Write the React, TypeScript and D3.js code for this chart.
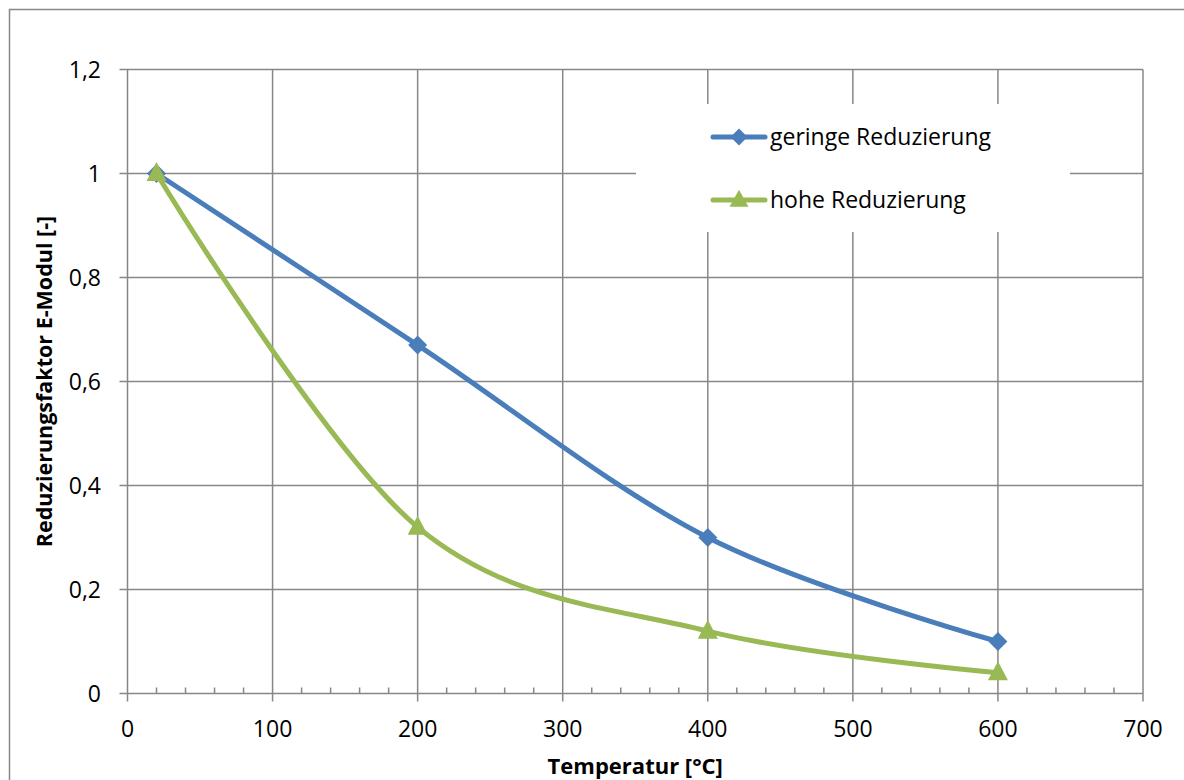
import React from "react";
import * as d3 from "d3";

const temperatures = [20, 200, 400, 600];
const geringeValues = [1, 0.67, 0.3, 0.1];
const hoheValues = [1, 0.32, 0.12, 0.04];
const seriesNames = ["geringe Reduzierung", "hohe Reduzierung"];
const xTicks = [0, 100, 200, 300, 400, 500, 600, 700];
const yTicks = [0, 0.2, 0.4, 0.6, 0.8, 1, 1.2];
const xTitle = "Temperatur [°C]";
const yTitle = "Reduzierungsfaktor E-Modul [-]";

const W = 1184;
const H = 780;
const FONT = "'Open Sans', sans-serif";
const GRID = "#878787";
const BLUE = "#4A7EBB";
const GREEN = "#98B954";

export default function App() {
  const x = d3.scaleLinear().domain([0, 700]).range([127.5, 1143]);
  const y = d3.scaleLinear().domain([0, 1.2]).range([693.5, 69.5]);
  const line = d3
    .line<[number, number]>()
    .x((d) => x(d[0]))
    .y((d) => y(d[1]))
    .curve(d3.curveCatmullRom.alpha(0));

  const s1: [number, number][] = temperatures.map((t, i) => [t, geringeValues[i]]);
  const s2: [number, number][] = temperatures.map((t, i) => [t, hoheValues[i]]);
  const minor = d3.range(0, 701, 20).filter((v) => v % 100 !== 0);
  const fmt = (v: number) => String(v).replace(".", ",");

  const diamond = (cx: number, cy: number, r: number) =>
    `M${cx},${cy - r}L${cx + r},${cy}L${cx},${cy + r}L${cx - r},${cy}Z`;
  const triangle = (cx: number, cy: number, w: number, h: number) =>
    `M${cx},${cy - h * 0.6}L${cx + w / 2},${cy + h * 0.4}L${cx - w / 2},${cy + h * 0.4}Z`;

  const legend = { x0: 636, x1: 1070, y0: 104, y1: 232 };

  return (
    <svg
      width={W}
      height={H}
      style={{ position: "absolute", left: 0, top: 0, background: "#fff" }}
    >
      <rect x={9.5} y={9.5} width={1300} height={900} fill="#fff" stroke={GRID} strokeWidth={1.5} />
      {yTicks.map((v) => (
        <line key={"gy" + v} x1={x(0) - 8} x2={x(700)} y1={y(v)} y2={y(v)} stroke={GRID} strokeWidth={1.5} />
      ))}
      {xTicks.map((v) => (
        <line key={"gx" + v} x1={x(v)} x2={x(v)} y1={y(1.2)} y2={y(0) + 8} stroke={GRID} strokeWidth={1.5} />
      ))}
      {minor.map((v) => (
        <line key={"mx" + v} x1={x(v)} x2={x(v)} y1={y(0) - 6} y2={y(0)} stroke={GRID} strokeWidth={1.5} />
      ))}
      <rect x={legend.x0} y={legend.y0} width={legend.x1 - legend.x0} height={legend.y1 - legend.y0} fill="#fff" />
      {yTicks.map((v) => (
        <text key={"ly" + v} x={101} y={y(v)} dy="0.36em" textAnchor="end" fontFamily={FONT} fontSize={23} fill="#000">
          {fmt(v)}
        </text>
      ))}
      {xTicks.map((v) => (
        <text key={"lx" + v} x={x(v)} y={737} textAnchor="middle" fontFamily={FONT} fontSize={23} fill="#000">
          {v}
        </text>
      ))}
      <text x={(x(0) + x(700)) / 2} y={774} textAnchor="middle" fontFamily={FONT} fontSize={22} fontWeight="bold">
        {xTitle}
      </text>
      <text
        transform={`translate(52,${(y(0) + y(1.2)) / 2}) rotate(-90)`}
        textAnchor="middle"
        fontFamily={FONT}
        fontSize={21.5}
        fontWeight="bold"
      >
        {yTitle}
      </text>
      <path d={line(s1) || ""} fill="none" stroke={BLUE} strokeWidth={5} strokeLinejoin="round" />
      <path d={line(s2) || ""} fill="none" stroke={GREEN} strokeWidth={5} strokeLinejoin="round" />
      {s1.map((d, i) => (
        <path key={"m1" + i} d={diamond(x(d[0]), y(d[1]), 9.5)} fill={BLUE} />
      ))}
      {s2.map((d, i) => (
        <path key={"m2" + i} d={triangle(x(d[0]), y(d[1]), 20, 19)} fill={GREEN} />
      ))}
      {seriesNames.map((name, i) => {
        const ly = i === 0 ? 137 : 200;
        const color = i === 0 ? BLUE : GREEN;
        return (
          <g key={name}>
            <line x1={713} x2={765} y1={ly} y2={ly} stroke={color} strokeWidth={5} strokeLinecap="round" />
            {i === 0 ? (
              <path d={diamond(739, ly, 8.5)} fill={color} />
            ) : (
              <path d={triangle(739, ly, 19, 17)} fill={color} />
            )}
            <text x={770} y={ly} dy="0.36em" fontFamily={FONT} fontSize={23} fill="#000">
              {name}
            </text>
          </g>
        );
      })}
    </svg>
  );
}
